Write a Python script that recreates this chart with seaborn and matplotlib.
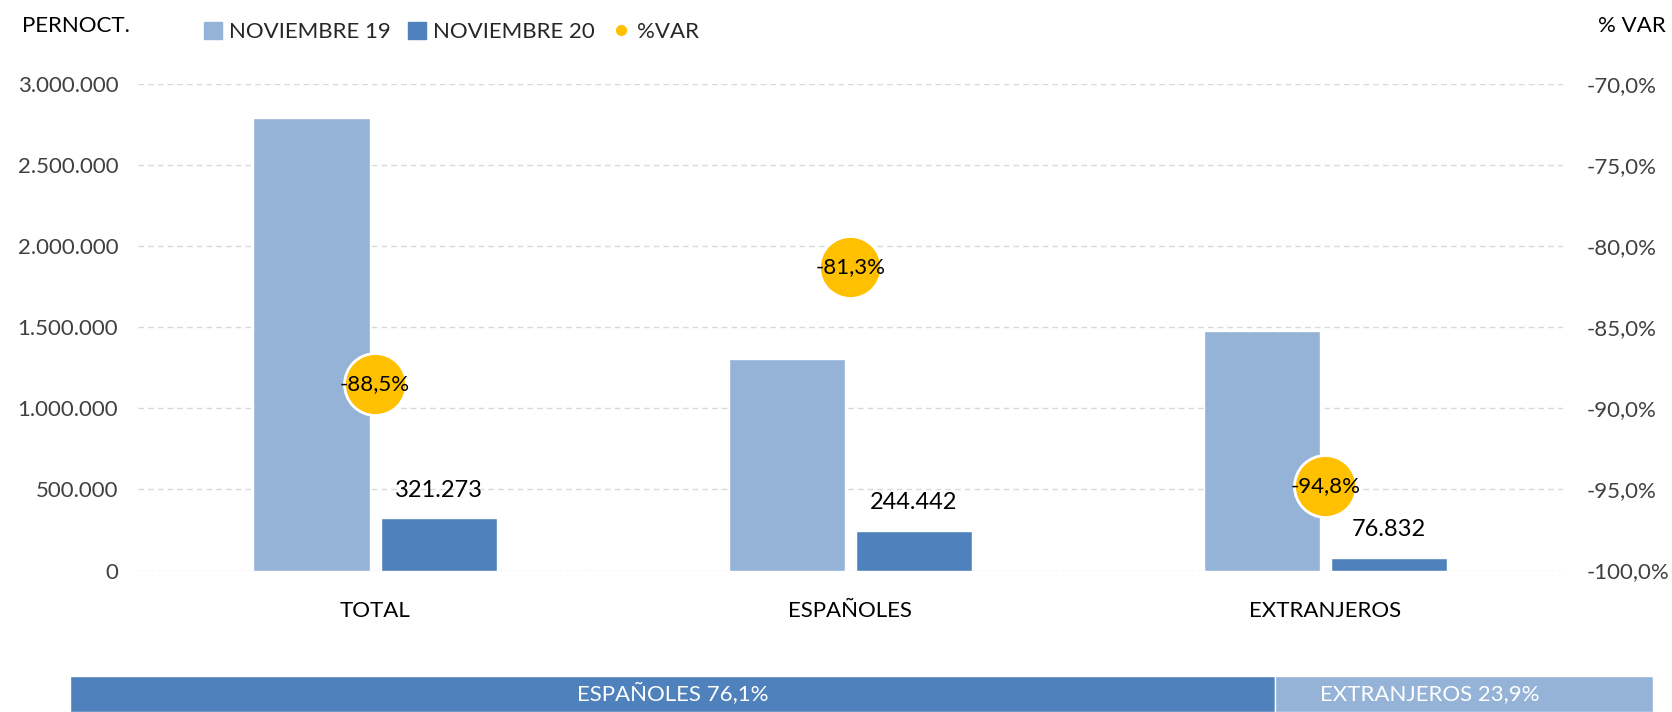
import numpy as np
import pandas as pd
import matplotlib.pyplot as plt
import seaborn as sns
from matplotlib.lines import Line2D
from matplotlib.patches import Patch

# data
categories = ['TOTAL', 'ESPAÑOLES', 'EXTRANJEROS']
nov19 = [2793700, 1307200, 1477500]
nov20 = [321273, 244442, 76832]
pct_var = [-88.5, -81.3, -94.8]
share_labels = ['ESPAÑOLES', 'EXTRANJEROS']
share_values = [76.1, 23.9]

c19 = '#95B3D7'
c20 = '#4F81BD'
cvar = '#FFC000'

sns.set_theme(style='white')
plt.rcParams['font.family'] = ['Lato', 'DejaVu Sans']


def fmt_thousands(v):
    return f"{v:,.0f}".replace(',', '.')


def fmt_pct(v):
    return f"{v:.1f}%".replace('.', ',')


df = pd.DataFrame({
    'cat': categories * 2,
    'serie': ['NOVIEMBRE 19'] * 3 + ['NOVIEMBRE 20'] * 3,
    'valor': nov19 + nov20,
})

fig = plt.figure(figsize=(16.72, 7.12), dpi=100)
ax = fig.add_axes([0.0823, 0.1987, 0.8525, 0.683])

sns.barplot(data=df, x='cat', y='valor', hue='serie', order=categories,
            palette=[c19, c20], saturation=1, width=0.535, gap=0.084,
            ax=ax, legend=False)

ax.set_ylim(0, 3000000)
ax.set_xlim(-0.5, 2.5)
ax.set_yticks(np.arange(0, 3000001, 500000))
ax.set_yticklabels([fmt_thousands(v) for v in ax.get_yticks()], color='#404040', fontsize=16)
ax.tick_params(axis='y', length=0, pad=14)
ax.tick_params(axis='x', length=0, pad=22, labelsize=16, labelcolor='black')
ax.set_xlabel('')
ax.set_ylabel('')
ax.grid(axis='y', color='#D9D9D9', linestyle=(0, (4, 3)), linewidth=1)
ax.set_axisbelow(True)
for s in ax.spines.values():
    s.set_visible(False)

# labels above November 20 bars
for i, v in enumerate(nov20):
    ax.text(i + 0.13375, v + 175000, fmt_thousands(v), ha='center', va='center',
            fontsize=17, color='black')

# %VAR on the right axis
ax2 = ax.twinx()
sns.scatterplot(x=np.arange(len(categories)), y=pct_var, s=1990, color=cvar,
                edgecolor='white', linewidth=2, ax=ax2, legend=False, zorder=5)
ax2.set_ylim(-100, -70)
ax2.set_xlim(-0.5, 2.5)
ax2.set_yticks(np.arange(-100, -69, 5))
ax2.set_yticklabels([fmt_pct(v) for v in ax2.get_yticks()], color='#404040', fontsize=16)
ax2.tick_params(axis='y', length=0, pad=17)
ax2.grid(False)
for s in ax2.spines.values():
    s.set_visible(False)
for i, v in enumerate(pct_var):
    ax2.text(i, v, fmt_pct(v), ha='center', va='center', fontsize=16, color='black', zorder=6)

# axis titles and legend
fig.text(0.013, 0.963, 'PERNOCT.', fontsize=16, color='black', va='center')
fig.text(0.996, 0.963, '% VAR', fontsize=16, color='black', va='center', ha='right')
handles = [Patch(color=c19, label='NOVIEMBRE 19'),
           Patch(color=c20, label='NOVIEMBRE 20'),
           Line2D([], [], marker='o', color=cvar, linestyle='none', markersize=7,
                  label='%VAR')]
fig.legend(handles=handles, loc='center left', bbox_to_anchor=(0.110, 0.955), ncol=3,
           frameon=False, fontsize=16, handlelength=0.8, handleheight=0.8,
           handletextpad=0.35, columnspacing=0.75)

# bottom share bar
axb = fig.add_axes([0.0421, 0.0, 0.9464, 0.0506])
left = 0
for lab, val, col in zip(share_labels, share_values, [c20, c19]):
    axb.barh([0], [val], left=left, color=col, height=1.0)
    left += val
axb.text(share_values[0] / 2, 0, f"{share_labels[0]} {fmt_pct(share_values[0])}",
         ha='center', va='center', color='white', fontsize=16)
axb.text(share_values[0] + 9.8, 0, f"{share_labels[1]} {fmt_pct(share_values[1])}",
         ha='center', va='center', color='white', fontsize=16)
axb.set_xlim(0, 100)
axb.set_ylim(-0.5, 0.5)
axb.axis('off')

fig.savefig('out.png', dpi=100)
